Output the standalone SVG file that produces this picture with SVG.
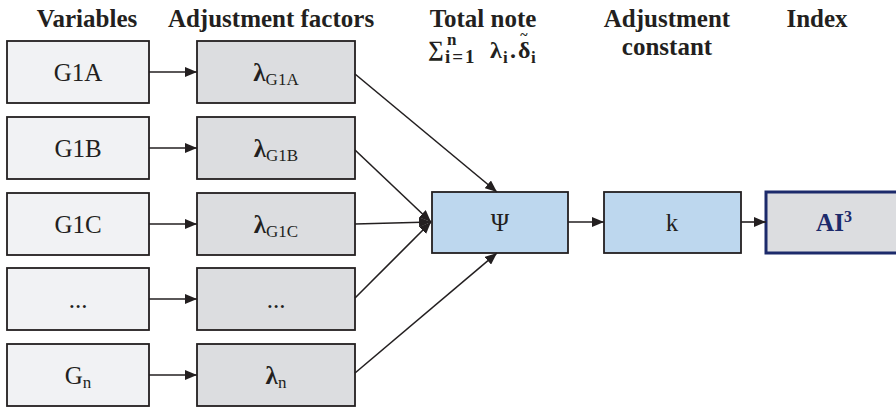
<svg xmlns="http://www.w3.org/2000/svg" width="896" height="407" viewBox="0 0 896 407">
<defs>
<marker id="ah" viewBox="0 0 12 10" refX="12" refY="5" markerWidth="12" markerHeight="10" markerUnits="userSpaceOnUse" orient="auto">
<path d="M0,0 L12,5 L0,10 z" fill="#231f20"/>
</marker>
</defs>
<style>
text{font-family:"Liberation Serif","Times New Roman",Tinos,"DejaVu Serif","Noto Serif",serif;fill:#231f20}
.hd{font-size:25px;font-weight:bold;text-anchor:middle}
.bt{font-size:25px;text-anchor:middle}
.var{fill:#f1f2f4;stroke:#231f20;stroke-width:1.8}
.adj{fill:#dcdde0;stroke:#231f20;stroke-width:1.8}
.blue{fill:#bdd7ee;stroke:#231f20;stroke-width:1.8}
.idx{fill:#dcdde0;stroke:#1c2a6b;stroke-width:3}
.sub{font-size:17px}
.b{font-weight:bold}
.m{font-size:24px;font-weight:bold}
.ms{font-size:17px;font-weight:bold}
#connectors line{stroke:#231f20;stroke-width:1.6;marker-end:url(#ah)}
</style>

<g id="headers">
<text class="hd" x="483" y="27">Total note</text>
<text class="hd" x="87" y="27">Variables</text>
<text class="hd" x="271" y="27">Adjustment factors</text>
<text class="hd" x="667" y="27">Adjustment</text>
<text class="hd" x="667" y="55">constant</text>
<text class="hd" x="817" y="27">Index</text>
</g>
<g id="formula">
<text class="m" x="428" y="56" style="font-size:22px">∑</text>
<text class="ms" x="447" y="45">n</text>
<text class="ms" x="445" y="63" style="font-size:19px;letter-spacing:2px">i=1</text>
<text class="m" x="490" y="58">λ</text>
<text class="ms" x="503" y="63">i</text>
<text class="m" x="510" y="58">.</text>
<text class="m" x="518" y="58">δ</text>
<text x="524" y="40" text-anchor="middle" style="font-size:14px;font-weight:bold">~</text>
<text class="ms" x="531" y="63">i</text>
</g>

<g id="n-G1A"><rect class="var" x="7" y="41" width="142" height="62"/><text class="bt" x="78" y="81">G1A</text></g>
<g id="n-G1B"><rect class="var" x="7" y="117" width="142" height="62"/><text class="bt" x="78" y="157">G1B</text></g>
<g id="n-G1C"><rect class="var" x="7" y="193" width="142" height="62"/><text class="bt" x="78" y="233">G1C</text></g>
<g id="n-Gdots"><rect class="var" x="7" y="268" width="142" height="62"/><text class="bt" x="78" y="308">...</text></g>
<g id="n-Gn"><rect class="var" x="7" y="344" width="142" height="62"/><text class="bt" x="78" y="384">G<tspan class="sub" dy="4">n</tspan></text></g>

<g id="n-LG1A"><rect class="adj" x="197" y="41" width="158" height="62"/><text class="bt" x="276" y="81"><tspan class="b">λ</tspan><tspan class="sub" dy="4">G1A</tspan></text></g>
<g id="n-LG1B"><rect class="adj" x="197" y="117" width="158" height="62"/><text class="bt" x="276" y="157"><tspan class="b">λ</tspan><tspan class="sub" dy="4">G1B</tspan></text></g>
<g id="n-LG1C"><rect class="adj" x="197" y="193" width="158" height="62"/><text class="bt" x="276" y="233"><tspan class="b">λ</tspan><tspan class="sub" dy="4">G1C</tspan></text></g>
<g id="n-Ldots"><rect class="adj" x="197" y="268" width="158" height="62"/><text class="bt" x="276" y="308">...</text></g>
<g id="n-Ln"><rect class="adj" x="197" y="344" width="158" height="62"/><text class="bt" x="276" y="384"><tspan class="b">λ</tspan><tspan class="sub" dy="4">n</tspan></text></g>

<g id="n-Psi"><rect class="blue" x="432" y="192" width="136" height="61"/><text class="bt" x="500" y="231">Ψ</text></g>
<g id="n-k"><rect class="blue" x="604" y="192" width="137" height="61"/><text class="bt" x="672" y="231">k</text></g>
<g id="n-AI"><rect class="idx" x="766" y="192" width="140" height="61"/><text class="bt b" x="834" y="231" style="fill:#1c2a6b">AI<tspan font-size="16px" dy="-9">3</tspan></text></g>

<g id="connectors">
<line x1="149" y1="72" x2="197" y2="72"/>
<line x1="149" y1="148" x2="197" y2="148"/>
<line x1="149" y1="224" x2="197" y2="224"/>
<line x1="149" y1="299" x2="197" y2="299"/>
<line x1="149" y1="375" x2="197" y2="375"/>
<line x1="355" y1="74" x2="497" y2="192"/>
<line x1="355" y1="150" x2="431" y2="222"/>
<line x1="355" y1="224" x2="431" y2="222"/>
<line x1="355" y1="298" x2="431" y2="222"/>
<line x1="355" y1="373" x2="497" y2="253"/>
<line x1="568" y1="222" x2="604" y2="222"/>
<line x1="741" y1="222" x2="766" y2="222"/>
</g>
</svg>
